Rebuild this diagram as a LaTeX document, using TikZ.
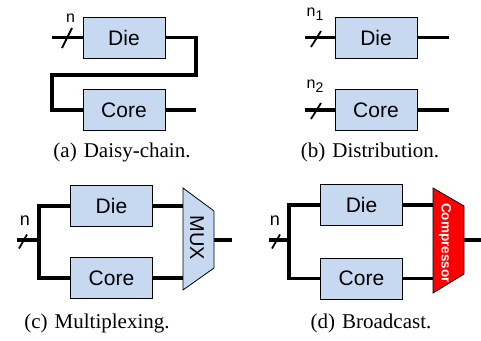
\documentclass[tikz,border=0pt]{standalone}
\usepackage{fontspec}
\setmainfont{Liberation Serif}
\newfontfamily\lsans{Liberation Sans}
\usetikzlibrary{calc}
\definecolor{boxblue}{RGB}{198,217,241}
\tikzset{
  blk/.style={draw=black, line width=0.8pt, fill=boxblue, minimum width=82pt, minimum height=41pt, inner sep=0pt, font=\lsans\fontsize{21}{21}\selectfont},
  wire/.style={line width=3.5pt, line join=miter},
  slashline/.style={line width=1.8pt},
  lbl/.style={inner sep=0pt, font=\lsans\fontsize{16}{16}\selectfont},
  capt/.style={inner sep=0pt, anchor=base, font=\fontsize{21}{21}\selectfont},
  muxshape/.style={draw=black, line width=0.8pt, fill=boxblue},
  compshape/.style={draw=black, line width=0.8pt, fill=red},
}
\begin{document}
\begin{tikzpicture}[x=1pt,y=-1pt]
\useasboundingbox (0,0) rectangle (481,340);

% ---------- (a) Daisy-chain ----------
\node[blk] (aDie) at (124,37.5) {Die};
\node[blk] (aCore) at (124,110) {Core};
\coordinate (aIn) at (52,37.5);
\coordinate (aR) at (196,75);
\coordinate (aL) at (52,75);
\coordinate (aOut) at (196,110);
\draw[wire] (aIn) -- (aDie.west);
\draw[wire] (aDie.east) -| (aR) -- (aL) |- (aCore.west);
\draw[wire] (aCore.east) -- (aOut);
\coordinate (aS) at (67,38);
\draw[slashline] ($(aS)+(-5,10)$) -- ($(aS)+(5,-10)$);
\node[lbl] (an) at (70.5,18) {n};
\node[capt] (acap) at (122,157) {(a)\hspace{7pt}Daisy-chain.};

% ---------- (b) Distribution ----------
\node[blk] (bDie) at (376,37.5) {Die};
\node[blk] (bCore) at (376,110) {Core};
\coordinate (bIn1) at (305,37.5);
\coordinate (bIn2) at (305,110);
\coordinate (bOut1) at (449,37.5);
\coordinate (bOut2) at (449,110);
\draw[wire] (bIn1) -- (bDie.west);
\draw[wire] (bIn2) -- (bCore.west);
\draw[wire] (bDie.east) -- (bOut1);
\draw[wire] (bCore.east) -- (bOut2);
\coordinate (bS1) at (316,39);
\coordinate (bS2) at (316,111);
\draw[slashline] ($(bS1)+(-5,8)$) -- ($(bS1)+(5,-8)$);
\draw[slashline] ($(bS2)+(-5,8)$) -- ($(bS2)+(5,-8)$);
\node[lbl, anchor=base west] (bn1) at (306.5,16.7) {n\raisebox{-4pt}{\fontsize{14}{14}\selectfont 1}};
\node[lbl, anchor=base west] (bn2) at (306.5,88.5) {n\raisebox{-4pt}{\fontsize{14}{14}\selectfont 2}};
\node[capt] (bcap) at (370,157) {(b)\hspace{7pt}Distribution.};

% ---------- (c) Multiplexing ----------
\node[blk] (cDie) at (111.5,206) {Die};
\node[blk] (cCore) at (111.5,278) {Core};
\coordinate (cIn) at (17,240);
\coordinate (cJ) at (39,240);
\coordinate (cM1) at (183,188);
\coordinate (cM2) at (214,211);
\coordinate (cM3) at (214,268);
\coordinate (cM4) at (183,290);
\coordinate (cMi1) at (183,206);
\coordinate (cMi2) at (183,278);
\coordinate (cMo) at (214,240);
\coordinate (cOut) at (232,240);
\draw[wire] (cIn) -- (cJ);
\draw[wire] (cDie.west) -| (cJ) |- (cCore.west);
\draw[wire] (cDie.east) -- (cMi1);
\draw[wire] (cCore.east) -- (cMi2);
\draw[wire] (cMo) -- (cOut);
\draw[muxshape] (cM1) -- (cM2) -- (cM3) -- (cM4) -- cycle;
\node[inner sep=0pt, rotate=-90, font=\lsans\fontsize{20}{20}\selectfont] (cMux) at (197,238) {MUX};
\coordinate (cS) at (23,241.5);
\draw[slashline] ($(cS)+(-4,7)$) -- ($(cS)+(4,-7)$);
\node[lbl, font=\lsans\fontsize{18}{18}\selectfont] (cn) at (25,221) {n};
\node[capt] (ccap) at (97,328) {(c)\hspace{7pt}Multiplexing.};

% ---------- (d) Broadcast ----------
\node[blk] (dDie) at (361.5,205) {Die};
\node[blk] (dCore) at (361.5,278.5) {Core};
\coordinate (dIn) at (269,240);
\coordinate (dJ) at (289,240);
\coordinate (dC1) at (433,188);
\coordinate (dC2) at (464,206);
\coordinate (dC3) at (464,274);
\coordinate (dC4) at (433,293);
\coordinate (dCi1) at (433,205);
\coordinate (dCi2) at (433,278.5);
\coordinate (dCo) at (464,240);
\coordinate (dOut) at (481,240);
\draw[wire] (dIn) -- (dJ);
\draw[wire] (dDie.west) -| (dJ) |- (dCore.west);
\draw[wire] (dDie.east) -- (dCi1);
\draw[wire] (dCore.east) -- (dCi2);
\draw[wire] (dCo) -- (dOut);
\draw[compshape] (dC1) -- (dC2) -- (dC3) -- (dC4) -- cycle;
\node[inner sep=0pt, rotate=-90, text=white, font=\lsans\bfseries\fontsize{13.5}{13.5}\selectfont] (dComp) at (445,243) {Compressor};
\coordinate (dS) at (276,241.5);
\draw[slashline] ($(dS)+(-4,7)$) -- ($(dS)+(4,-7)$);
\node[lbl, font=\lsans\fontsize{18}{18}\selectfont] (dn) at (275,221) {n};
\node[capt] (dcap) at (371,328) {(d)\hspace{7pt}Broadcast.};
\end{tikzpicture}
\end{document}
